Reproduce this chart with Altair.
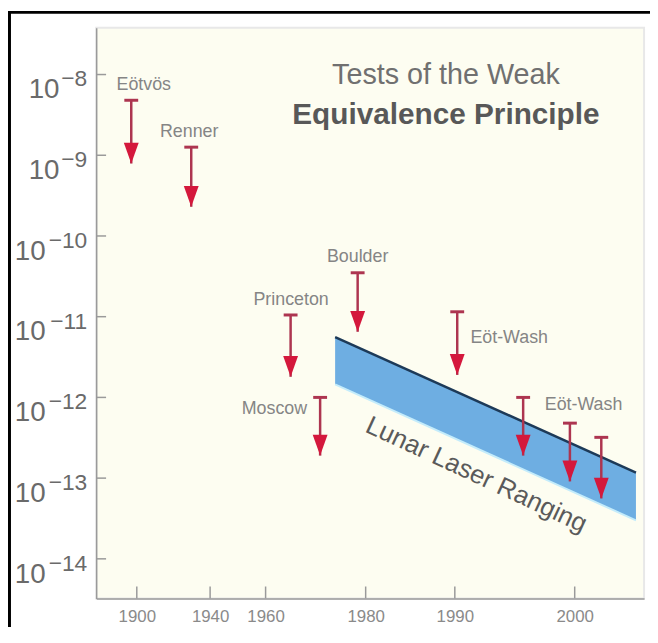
import altair as alt
import pandas as pd

# ---- data ----
test_names = ["Eötvös", "Renner", "Princeton", "Moscow", "Boulder",
              "Eöt-Wash", "Eöt-Wash", "Eöt-Wash", "Eöt-Wash"]
test_years = [1897, 1929.7, 1965, 1970.9, 1978.4, 1990.2, 1995.7, 1999.6, 2002.3]
test_limits = [4.8e-9, 1.26e-9, 1.05e-11, 1.0e-12, 3.5e-11, 1.15e-11, 1.0e-12, 4.8e-13, 3.2e-13]
test_tips = [7.9e-10, 2.3e-10, 1.8e-12, 1.9e-13, 6.5e-12, 1.9e-12, 1.9e-13, 9.1e-14, 5.6e-14]

label_text = ["Eötvös", "Renner", "Princeton", "Boulder", "Moscow", "Eöt-Wash", "Eöt-Wash"]
label_year = [1903.8, 1928.6, 1965.1, 1978.4, 1968.3, 1991.3, 1997.5]
label_val = [7.5e-9, 1.95e-9, 1.6e-11, 5.5e-11, 7.1e-13, 5.5e-12, 8.1e-13]
label_align = ["center", "center", "center", "center", "right", "left", "left"]

llr_years = [1973.9, 2005.3]
llr_upper = [5.6e-12, 1.17e-13]
llr_lower = [1.45e-12, 3.0e-14]
llr_label = ["Lunar Laser Ranging"]
llr_label_year = [1991.8]
llr_label_val = [1.1e-13]

x_ticks = [1900, 1940, 1960, 1980, 1990, 2000]
y_exponents = [-8, -9, -10, -11, -12, -13, -14]

# ---- tables ----
tests = pd.DataFrame({"name": test_names, "year": test_years,
                      "limit": test_limits, "tip": test_tips})
labels = pd.DataFrame({"text": label_text, "year": label_year,
                       "val": label_val, "align": label_align})
llr = pd.DataFrame({"year": llr_years, "upper": llr_upper, "lower": llr_lower})
llr_lab = pd.DataFrame({"text": llr_label, "year": llr_label_year, "val": llr_label_val})
xt = pd.DataFrame({"year": x_ticks})
yt = pd.DataFrame({"e": y_exponents})
yt["val"] = [10.0 ** e for e in y_exponents]
yt["sup"] = ["\u2212" + str(abs(e)) for e in y_exponents]
yt["base"] = ["10"] * len(y_exponents)

W, H = 553, 576
PAD_R = 6
FONT = "Liberation Sans"

x_scale = alt.Scale(domain=[1878, 1900, 1940, 1960, 1980, 1990, 2000, 2006],
                    range=[0, 41, 115, 171, 272, 362, 483, 553],
                    nice=False, zero=False)
y_scale = alt.Scale(type="log", domain=[10 ** -14.49, 10 ** -7.42], nice=False)

X = lambda f: alt.X(f, type="quantitative", scale=x_scale)
Y = lambda f: alt.Y(f, type="quantitative", scale=y_scale)

# axes (labels only on x; y labels drawn as text)
axes = alt.Chart(xt).mark_point(opacity=0).encode(
    x=alt.X("year:Q", scale=x_scale, title=None,
            axis=alt.Axis(values=x_ticks, format="d", ticks=False, grid=False,
                          labelFontSize=17, labelColor="#8a8a8a", labelFont=FONT,
                          labelPadding=10, domainColor="#9a9a9a", domainWidth=1.5)),
    y=alt.Y("yv:Q", scale=y_scale, title=None,
            axis=alt.Axis(labels=False, ticks=False, grid=False,
                          domainColor="#9a9a9a", domainWidth=1.5)),
).transform_calculate(yv="1e-10")

xticks = alt.Chart(xt).mark_rule(color="#9a9a9a", strokeWidth=1.5).encode(
    x=X("year"), y=alt.value(H), y2=alt.value(H - 12))
yticks = alt.Chart(yt).mark_rule(color="#9a9a9a", strokeWidth=1.5).encode(
    y=Y("val"), x=alt.value(0), x2=alt.value(10))

ybase_1 = alt.Chart(yt).transform_filter("datum.e >= -9").mark_text(
    align="right", baseline="alphabetic", dy=24, fontSize=28, font=FONT, color="#6a6a6a"
).encode(y=Y("val"), x=alt.value(-37), text="base:N")
ybase_2 = alt.Chart(yt).transform_filter("datum.e < -9").mark_text(
    align="right", baseline="alphabetic", dy=24, fontSize=28, font=FONT, color="#6a6a6a"
).encode(y=Y("val"), x=alt.value(-51), text="base:N")
ysup = alt.Chart(yt).mark_text(
    align="right", baseline="alphabetic", dy=12, fontSize=23, font=FONT, color="#6a6a6a"
).encode(y=Y("val"), x=alt.value(-9), text="sup:N")

band = alt.Chart(llr).mark_area(color="#6eaee2", opacity=1).encode(
    x=X("year"), y=Y("upper"), y2="lower")
band_low = alt.Chart(llr).mark_line(color="#c4ecfb", strokeWidth=2).encode(
    x=X("year"), y=Y("lower"))
band_top = alt.Chart(llr).mark_line(color="#1d3a58", strokeWidth=2.5).encode(
    x=X("year"), y=Y("upper"))

llr_text = alt.Chart(llr_lab).mark_text(
    angle=25, fontSize=26, font=FONT, color="#5a5a5a", align="center", baseline="middle"
).encode(x=X("year"), y=Y("val"), text="text:N")

stems = alt.Chart(tests).mark_rule(color="#ad3550", strokeWidth=2.5).encode(
    x=X("year"), y=Y("limit"), y2="tip")
caps = alt.Chart(tests).mark_point(
    shape="M-1,0L1,0", size=196, filled=False, strokeWidth=3, color="#ad3550", opacity=1
).encode(x=X("year"), y=Y("limit"))
heads = alt.Chart(tests).mark_point(
    shape="M-1,-2.8L1,-2.8L0,0Z", size=225, filled=True, color="#d4183c", opacity=1
).encode(x=X("year"), y=Y("tip"))

def lab(align):
    return alt.Chart(labels).transform_filter(f"datum.align == '{align}'").mark_text(
        align=align, baseline="middle", fontSize=18, font=FONT, color="#858585"
    ).encode(x=X("year"), y=Y("val"), text="text:N")

title1 = alt.Chart(llr_lab).mark_text(
    fontSize=29, font=FONT, color="#707070", align="center", baseline="alphabetic"
).encode(x=alt.value(353), y=alt.value(57), text=alt.value("Tests of the Weak"))
title2 = alt.Chart(llr_lab).mark_text(
    fontSize=30, font=FONT, fontWeight="bold", color="#585858", align="center",
    baseline="alphabetic"
).encode(x=alt.value(353), y=alt.value(97), text=alt.value("Equivalence Principle"))

frame_top = alt.Chart(llr_lab).mark_rule(color="black", strokeWidth=3).encode(
    x=alt.value(-89), x2=alt.value(W + PAD_R), y=alt.value(-15.5))
frame_left = alt.Chart(llr_lab).mark_rule(color="black", strokeWidth=3).encode(
    x=alt.value(-87.5), y=alt.value(-17), y2=alt.value(H + 29))

chart = alt.layer(
    axes, xticks, yticks, ybase_1, ybase_2, ysup,
    band, band_low, band_top, llr_text,
    stems, caps, heads,
    lab("center"), lab("right"), lab("left"),
    title1, title2, frame_top, frame_left
).properties(
    width=W, height=H,
    autosize=alt.AutoSizeParams(type="none"),
    padding={"left": 89, "top": 17, "right": PAD_R, "bottom": 29},
    background="white",
).configure_view(fill="#fdfdf1", stroke="#e8e8e8", strokeWidth=2)

chart.save("out.html", embed_options={"renderer": "svg", "actions": False})
